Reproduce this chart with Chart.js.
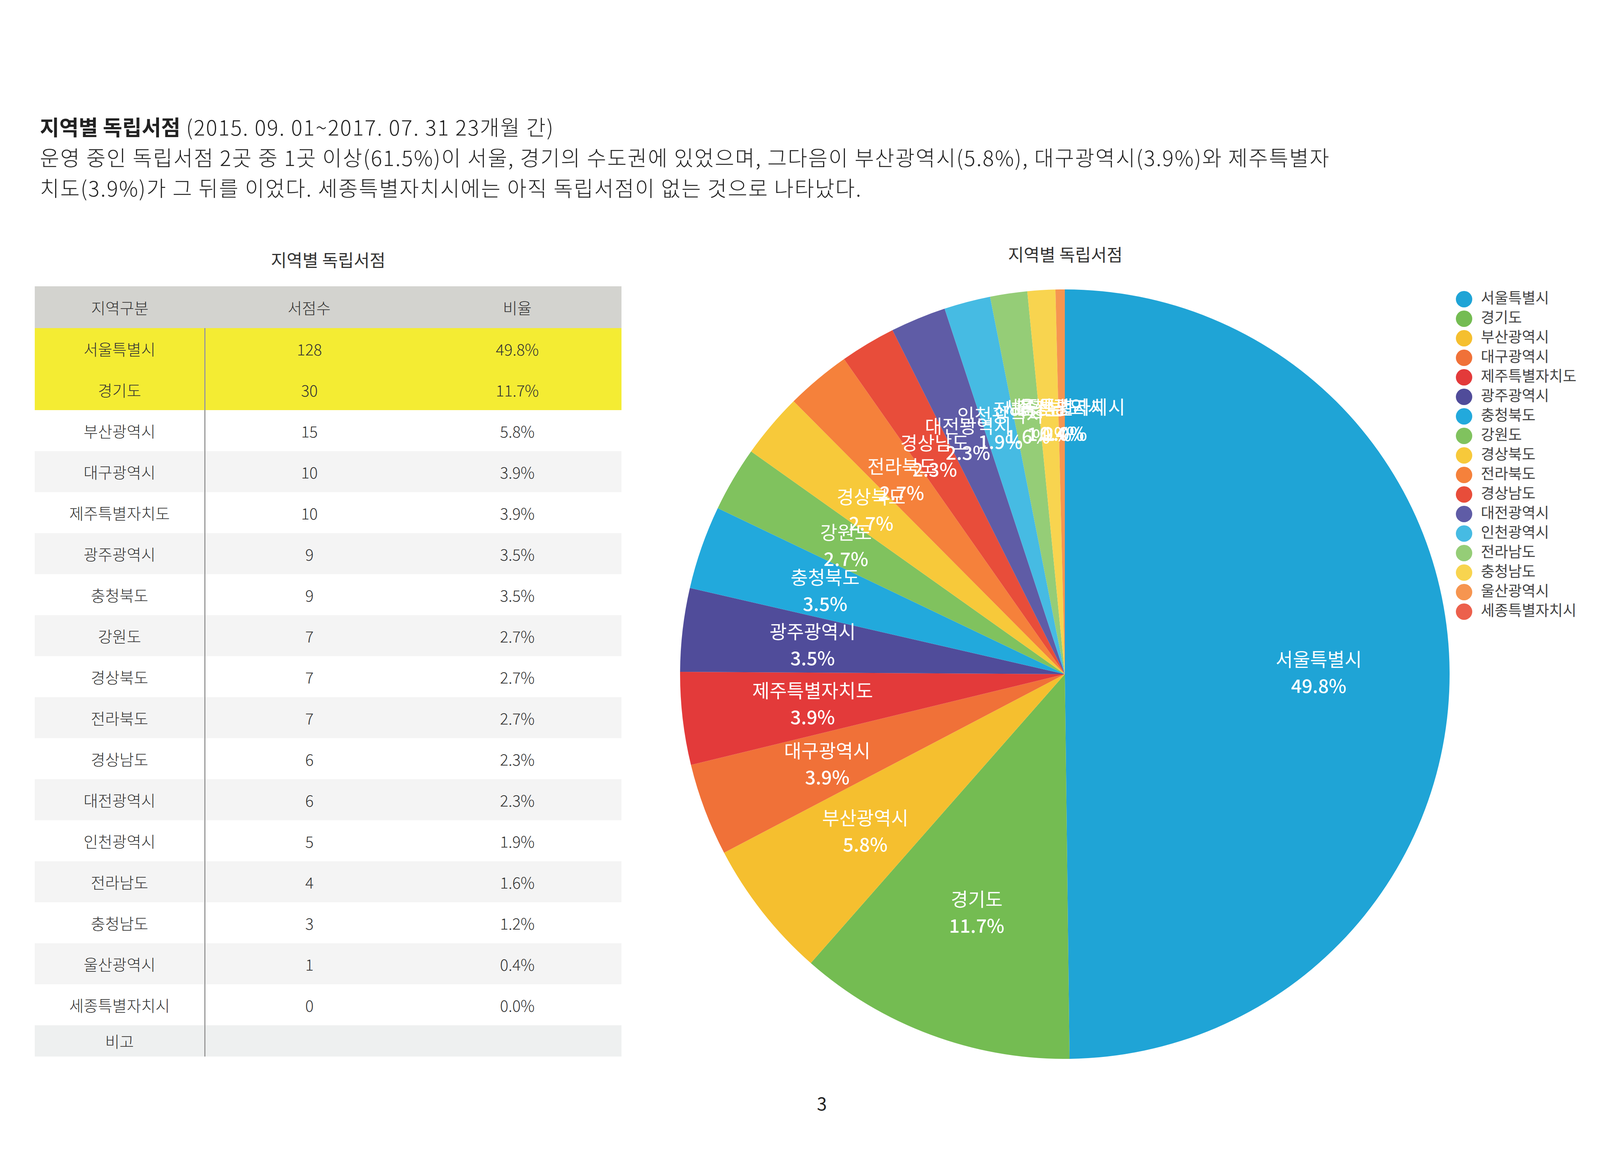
<!DOCTYPE html>
<html><head><meta charset="utf-8">
<script src="https://cdn.jsdelivr.net/npm/chart.js@4.4.1/dist/chart.umd.min.js"></script>
<style>
  body { margin:0; width:4177px; height:2952px; background:#fff; position:relative; font-family:"Noto Sans CJK KR","Noto Sans",sans-serif; color:#222; overflow:hidden; }
  #intro { position:absolute; left:102px; top:285px; font-size:54px; line-height:78px; font-weight:300; letter-spacing:2.5px; white-space:nowrap; }
  #intro b { font-weight:700; letter-spacing:0; }
  .ttl { position:absolute; font-size:44px; color:#333; transform:translateX(-50%); white-space:nowrap; }
  table { position:absolute; left:89px; top:733px; width:1503px; border-collapse:collapse; font-size:40px; color:#333; font-weight:300; }
  td, th { text-align:center; height:105px; padding:0; font-weight:300; }
  th { background:#d3d3cf; height:107px; }
  td:first-child { border-right:3px solid #999; width:434px; }
  tr:nth-child(odd) td { background:#f4f4f4; }
  tr.hl td { background:#f4ec33 !important; }
  tr.note td { background:#eef0f0; height:80px; }
  #pie { position:absolute; left:1741px; top:741px; width:1970px; height:1970px; }
  #legend { position:absolute; left:3727px; top:735px; font-size:38px; color:#444; }
  #legend div { height:50px; line-height:50px; white-space:nowrap; }
  #legend span { display:inline-block; width:42px; height:42px; border-radius:50%; vertical-align:middle; margin-right:22px; }
  #page { position:absolute; left:2104px; top:2790px; font-size:46px; transform:translateX(-50%); }
</style></head>
<body>
<div id="intro"><b>지역별 독립서점</b> (2015. 09. 01~2017. 07. 31 23개월 간)<br>운영 중인 독립서점 2곳 중 1곳 이상(61.5%)이 서울, 경기의 수도권에 있었으며, 그다음이 부산광역시(5.8%), 대구광역시(3.9%)와 제주특별자<br>치도(3.9%)가 그 뒤를 이었다. 세종특별자치시에는 아직 독립서점이 없는 것으로 나타났다.</div>
<div class="ttl" style="left:840px;top:632px">지역별 독립서점</div>
<div class="ttl" style="left:2727px;top:618px">지역별 독립서점</div>
<table id="tbl"></table>
<div id="pie"><canvas id="c"></canvas></div>
<div id="legend"></div>
<div id="page">3</div>
<script>
const regions = ["서울특별시","경기도","부산광역시","대구광역시","제주특별자치도","광주광역시","충청북도","강원도","경상북도","전라북도","경상남도","대전광역시","인천광역시","전라남도","충청남도","울산광역시","세종특별자치시"];
const stores = [128,30,15,10,10,9,9,7,7,7,6,6,5,4,3,1,0];
const shares = ["49.8%","11.7%","5.8%","3.9%","3.9%","3.5%","3.5%","2.7%","2.7%","2.7%","2.3%","2.3%","1.9%","1.6%","1.2%","0.4%","0.0%"];
const colors = ["#1fa4d6","#74bc52","#f5bf2f","#f07138","#e33a3a","#504c9a","#22a9dc","#80c25e","#f7c93a","#f5813b","#e84d3a","#5f5ca6","#46bbe3","#95cd77","#f8d44f","#f69550","#ec604c"];

const tbl = document.getElementById("tbl");
tbl.innerHTML = `<tr><th>지역구분</th><th>서점수</th><th>비율</th></tr>` +
  regions.map((r, i) => `<tr class="${i < 2 ? "hl" : ""}"><td>${r}</td><td>${stores[i]}</td><td>${shares[i]}</td></tr>`).join("") +
  `<tr class="note"><td>비고</td><td></td><td></td></tr>`;

document.getElementById("legend").innerHTML = regions.map((r, i) =>
  `<div><span style="background:${colors[i]}"></span>${r}</div>`).join("");

// labels inside slices: name + share
const sliceLabels = {
  id: "sliceLabels",
  afterDatasetsDraw(chart) {
    const ctx = chart.ctx;
    ctx.save();
    ctx.fillStyle = "#fff";
    ctx.textAlign = "center";
    ctx.textBaseline = "middle";
    chart.getDatasetMeta(0).data.forEach((arc, i) => {
      const p = arc.getProps(["x","y","startAngle","endAngle","outerRadius"], true);
      const mid = (p.startAngle + p.endAngle) / 2;
      const r = p.outerRadius * 0.66;
      const x = p.x + Math.cos(mid) * r, y = p.y + Math.sin(mid) * r;
      ctx.font = '48px "Noto Sans CJK KR"';
      ctx.fillText(regions[i], x, y - 34);
      ctx.font = '500 48px "Noto Sans CJK KR"';
      ctx.fillText(shares[i], x, y + 34);
    });
    ctx.restore();
  }
};

new Chart(document.getElementById("c"), {
  type: "pie",
  data: { labels: regions, datasets: [{ data: stores, backgroundColor: colors, borderWidth: 0 }] },
  options: {
    responsive: true, maintainAspectRatio: false, animation: false,
    layout: { padding: 0 },
    plugins: { legend: { display: false }, tooltip: { enabled: false } }
  },
  plugins: [sliceLabels]
});
</script>
</body></html>
